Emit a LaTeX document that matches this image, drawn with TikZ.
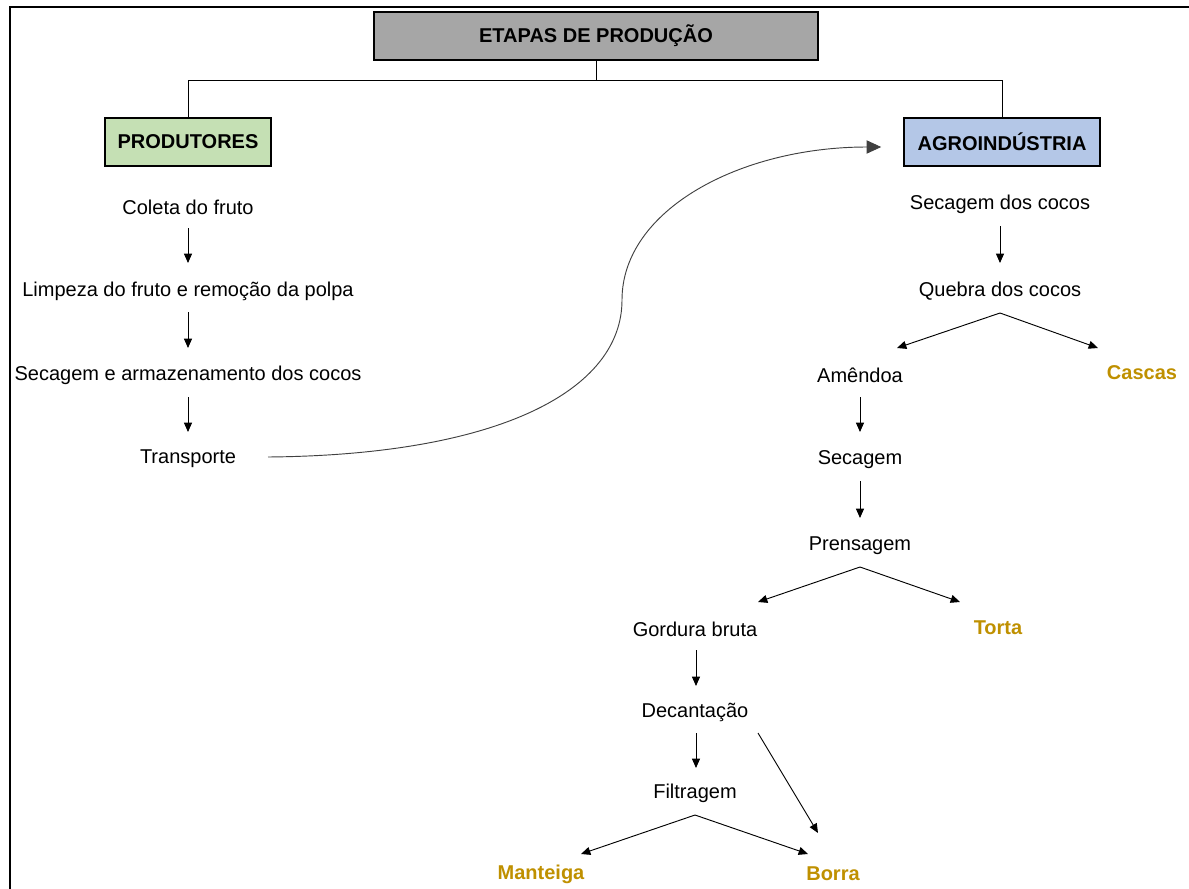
\documentclass[tikz,border=0pt]{standalone}
\usepackage{fontspec}
\setmainfont{Liberation Sans}
\usetikzlibrary{arrows.meta,calc}
\definecolor{boxgray}{HTML}{A6A6A6}
\definecolor{boxgreen}{HTML}{C5E0B4}
\definecolor{boxblue}{HTML}{B4C7E7}
\definecolor{prodgold}{HTML}{BF9000}
\definecolor{tipgray}{HTML}{404040}
\begin{document}
\begin{tikzpicture}[x=0.75pt,y=-0.75pt,
  every node/.style={font=\fontsize{15}{18}\selectfont},
  header/.style={draw=black,line width=1.2pt,minimum height=36pt,inner sep=0pt,font=\fontsize{15}{18}\selectfont\bfseries},
  stage/.style={inner sep=0pt},
  product/.style={inner sep=0pt,text=prodgold,font=\fontsize{15}{18}\selectfont\bfseries},
  arr/.style={line width=0.7pt,-{Triangle[length=7pt,width=6pt]}},
  link/.style={line width=0.7pt},
  flow/.style={line width=0.7pt,-{Triangle[length=11pt,width=10pt]},tipgray},
]
\useasboundingbox (0,0) rectangle (1189,889);

% page frame
\draw[line width=1.6pt] (10,889) -- (10,7) -- (1189,7);

% header boxes
\node[header,fill=boxgray,minimum width=333pt] (top) at (596,36) {ETAPAS DE PRODUÇÃO};
\node[header,fill=boxgreen,minimum width=124.5pt] (prod) at (188,142) {PRODUTORES};
\node[header,fill=boxblue,minimum width=147pt] (agro) at (1002,142) {AGROINDÚSTRIA};

\draw[link] (top.south) -- ++(0,20) coordinate (j);
\draw[link] (j) -| (prod.north);
\draw[link] (j) -| (agro.north);

% producers' column
\node[stage] (col) at (188,207) {Coleta do fruto};
\node[stage] (lim) at (188,291) {Limpeza do fruto e remoção da polpa};
\node[stage] (sea) at (188,375) {Secagem e armazenamento dos cocos};
\node[stage] (tra) at (188,459) {Transporte};

\draw[arr] ($(col)+(0,21)$) -- ($(lim)+(0,-28)$);
\draw[arr] ($(lim)+(0,21)$) -- ($(sea)+(0,-27)$);
\draw[arr] ($(sea)+(0,22)$) -- ($(tra)+(0,-27)$);

% transport to the agroindustry
\draw[flow] ($(tra)+(80,-2)$) .. controls (500,455) and (622,390) .. (622,300)
  .. controls (622,210) and (740,147) .. ($(agro.west)+(-22,5)$);

% agroindustry column
\node[stage] (sdc) at (1000,204) {Secagem dos cocos};
\node[stage] (que) at (1000,291) {Quebra dos cocos};
\node[stage] (ame) at (860,375) {Amêndoa};
\node[product] (cas) at (1142,373) {Cascas};
\node[stage] (sec) at (860,460) {Secagem};
\node[stage] (pre) at (860,546) {Prensagem};
\node[stage] (gor) at (695,629) {Gordura bruta};
\node[product] (tor) at (998,628) {Torta};
\node[stage] (dec) at (695,712) {Decantação};
\node[stage] (fil) at (695,793) {Filtragem};
\node[product] (man) at (541,874) {Manteiga};
\node[product] (bor) at (833,874) {Borra};

\draw[arr] ($(sdc)+(0,22)$) -- ($(que)+(0,-28)$);
\draw[arr] ($(que)+(0,22)$) -- ($(ame)+(37,-27)$);
\draw[arr] ($(que)+(0,22)$) -- ($(cas)+(-44,-25)$);
\draw[arr] ($(ame)+(0,22)$) -- ($(sec)+(0,-28)$);
\draw[arr] ($(sec)+(0,21)$) -- ($(pre)+(0,-28)$);
\draw[arr] ($(pre)+(0,21)$) -- ($(gor)+(63,-27)$);
\draw[arr] ($(pre)+(0,21)$) -- ($(tor)+(-38,-26)$);
\draw[arr] ($(gor)+(1,21)$) -- ($(dec)+(1,-26)$);
\draw[arr] ($(dec)+(1,21)$) -- ($(fil)+(1,-25)$);
\draw[arr] ($(dec)+(63,21)$) -- ($(bor)+(-15,-41)$);
\draw[arr] ($(fil)+(0,22)$) -- ($(man)+(40,-20)$);
\draw[arr] ($(fil)+(0,22)$) -- ($(bor)+(-25,-20)$);
\end{tikzpicture}
\end{document}
